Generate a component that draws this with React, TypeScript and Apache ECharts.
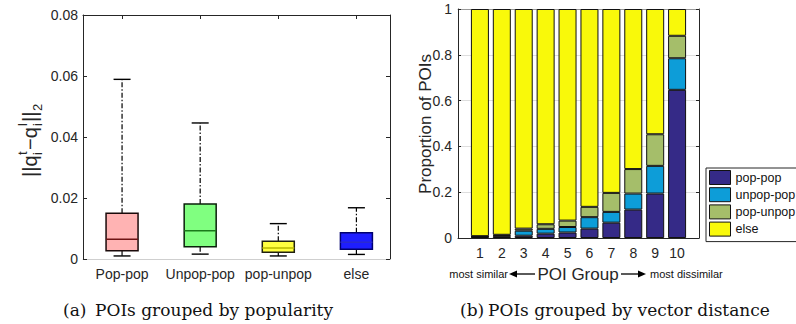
import React, { useEffect, useRef } from "react";
import * as echarts from "echarts";

// ---- Data: (a) box plot ----
const boxCategories = ["Pop-pop", "Unpop-pop", "pop-unpop", "else"];
const boxMin = [0.001, 0.0016, 0.001, 0.0015];
const boxQ1 = [0.0027, 0.004, 0.0022, 0.0032];
const boxMedian = [0.0065, 0.0093, 0.0036, 0.0055];
const boxQ3 = [0.015, 0.018, 0.0058, 0.0086];
const boxMax = [0.0589, 0.0446, 0.0116, 0.0168];
const boxYTicks = [0, 0.02, 0.04, 0.06, 0.08];

// ---- Data: (b) stacked bars ----
const groupLabels = ["1", "2", "3", "4", "5", "6", "7", "8", "9", "10"];
const popPop = [0.004, 0.007, 0.01, 0.019, 0.024, 0.041, 0.067, 0.124, 0.194, 0.647];
const unpopPop = [0.002, 0.003, 0.022, 0.021, 0.024, 0.05, 0.047, 0.07, 0.121, 0.138];
const popUnpop = [0.002, 0.004, 0.009, 0.02, 0.028, 0.045, 0.083, 0.107, 0.138, 0.098];
const elseVals = [0.992, 0.986, 0.959, 0.94, 0.924, 0.864, 0.803, 0.699, 0.547, 0.117];
const barSeriesNames = ["pop-pop", "unpop-pop", "pop-unpop", "else"];

const FONT = "'Liberation Sans', Arial, Helvetica, sans-serif";
const SERIF = "'DejaVu Serif', serif";
const TXT = "#262626";

const boxFill = ["#ffb3b3", "#80ff80", "#ffff40", "#1e1eff"];
const boxBorder = ["#1a0a0a", "#0a200a", "#202010", "#00006e"];
const boxMedianColor = ["#6e1414", "#1a7a1a", "#b8b800", "#2a2ad0"];
const barColors = ["#352a87", "#0d9dd8", "#a5be6a", "#f9f90a"];

export default function App() {
  const ref = useRef<HTMLDivElement>(null);

  useEffect(() => {
    if (!ref.current) return;
    const chart = echarts.init(ref.current, undefined, { renderer: "svg" });

    const boxData = boxCategories.map((_, i) => [
      i + 1,
      boxMin[i],
      boxQ1[i],
      boxMedian[i],
      boxQ3[i],
      boxMax[i],
    ]);

    const renderBox = (params: any, api: any) => {
      const i = params.dataIndex;
      const x = api.value(0);
      const pLo = api.coord([x, api.value(1)]);
      const pQ1 = api.coord([x, api.value(2)]);
      const pMed = api.coord([x, api.value(3)]);
      const pQ3 = api.coord([x, api.value(4)]);
      const pHi = api.coord([x, api.value(5)]);
      const cx = pHi[0];
      const bw = 32;
      const cw = 17;
      const dash = [5, 2, 1.5, 2];
      return {
        type: "group",
        children: [
          {
            type: "line",
            shape: { x1: cx, y1: pQ3[1], x2: cx, y2: pHi[1] },
            style: { stroke: "#000", lineWidth: 1.2, lineDash: dash },
          },
          {
            type: "line",
            shape: { x1: cx, y1: pQ1[1], x2: cx, y2: pLo[1] },
            style: { stroke: "#000", lineWidth: 1.2, lineDash: dash },
          },
          {
            type: "line",
            shape: { x1: cx - cw / 2, y1: pHi[1], x2: cx + cw / 2, y2: pHi[1] },
            style: { stroke: "#000", lineWidth: 1.4 },
          },
          {
            type: "line",
            shape: { x1: cx - cw / 2, y1: pLo[1], x2: cx + cw / 2, y2: pLo[1] },
            style: { stroke: "#000", lineWidth: 1.4 },
          },
          {
            type: "rect",
            shape: { x: cx - bw / 2, y: pQ3[1], width: bw, height: pQ1[1] - pQ3[1] },
            style: { fill: boxFill[i], stroke: boxBorder[i], lineWidth: 1.5 },
          },
          {
            type: "line",
            shape: { x1: cx - bw / 2, y1: pMed[1], x2: cx + bw / 2, y2: pMed[1] },
            style: { stroke: boxMedianColor[i], lineWidth: 1.5 },
          },
        ],
      };
    };

    const barVals = [popPop, unpopPop, popUnpop, elseVals];
    // padded with an empty slot on each side so groups sit at positions 1..10 of 0..11
    const barSeries = barSeriesNames.map((name, k) => ({
      name,
      type: "bar",
      xAxisIndex: 2,
      yAxisIndex: 2,
      stack: "all",
      barWidth: 18,
      data: [null, ...barVals[k], null],
      itemStyle: { color: barColors[k], borderColor: "#111", borderWidth: 1 },
    }));

    const tickLabel = { color: TXT, fontSize: 14, fontFamily: FONT };

    const scriptStyle = (text: string, x: number, y: number) => ({
      type: "text",
      x,
      y,
      style: {
        text,
        fontSize: 13,
        fontFamily: FONT,
        fill: TXT,
        align: "left",
        verticalAlign: "middle",
      },
    });
    const mainStyle = (text: string, x: number) => ({
      type: "text",
      x,
      y: 0,
      style: {
        text,
        fontSize: 20,
        fontFamily: FONT,
        fill: TXT,
        align: "left",
        verticalAlign: "middle",
      },
    });

    const option: any = {
      animation: false,
      backgroundColor: "#fff",
      textStyle: { fontFamily: FONT },
      grid: [
        { left: 83, top: 15, width: 307, height: 244 },
        { left: 458, top: 9, width: 241, height: 229 },
      ],
      xAxis: [
        {
          gridIndex: 0,
          type: "value",
          min: 0.5,
          max: 4.43,
          position: "bottom",
          axisLine: { show: true, onZero: false, lineStyle: { color: "#cfcfcf", width: 1 } },
          axisTick: { show: false },
          splitLine: { show: false },
          axisLabel: {
            ...tickLabel,
            margin: 8,
            customValues: [1, 2, 3, 4],
            formatter: (v: number) => boxCategories[Math.round(v) - 1] ?? "",
          },
        },
        {
          gridIndex: 0,
          type: "value",
          min: 0.5,
          max: 4.43,
          position: "top",
          axisLine: { show: true, onZero: false, lineStyle: { color: TXT, width: 1 } },
          axisTick: { show: true, inside: true, length: 4, customValues: [1, 2, 3, 4], lineStyle: { color: TXT } },
          splitLine: { show: false },
          axisLabel: { show: false },
        },
        {
          gridIndex: 1,
          type: "category",
          data: ["", ...groupLabels, ""],
          boundaryGap: false,
          position: "bottom",
          axisLine: { show: true, onZero: false, lineStyle: { color: TXT, width: 1 } },
          axisTick: { show: false },
          splitLine: { show: false },
          axisLabel: { ...tickLabel, margin: 8, interval: 0 },
        },
        {
          gridIndex: 1,
          type: "value",
          min: 0,
          max: 11,
          interval: 1,
          position: "top",
          axisLine: { show: true, onZero: false, lineStyle: { color: "#9a9a9a", width: 1 } },
          axisTick: {
            show: true,
            inside: true,
            length: 3,
            customValues: [1, 2, 3, 4, 5, 6, 7, 8, 9, 10],
            lineStyle: { color: "#9a9a9a" },
          },
          splitLine: { show: false },
          axisLabel: { show: false },
        },
      ],
      yAxis: [
        {
          gridIndex: 0,
          type: "value",
          min: boxYTicks[0],
          max: boxYTicks[boxYTicks.length - 1],
          interval: 0.02,
          position: "left",
          axisLine: { show: true, onZero: false, lineStyle: { color: TXT, width: 1 } },
          axisTick: { show: true, inside: true, length: 4, lineStyle: { color: TXT } },
          splitLine: { show: false },
          axisLabel: { ...tickLabel, margin: 5 },
        },
        {
          gridIndex: 0,
          type: "value",
          min: 0,
          max: 0.08,
          interval: 0.02,
          position: "right",
          axisLine: { show: true, onZero: false, lineStyle: { color: TXT, width: 1 } },
          axisTick: { show: true, inside: true, length: 4, lineStyle: { color: TXT } },
          splitLine: { show: false },
          axisLabel: { show: false },
        },
        {
          gridIndex: 1,
          type: "value",
          min: 0,
          max: 1,
          interval: 0.2,
          position: "left",
          axisLine: { show: true, onZero: false, lineStyle: { color: TXT, width: 1 } },
          axisTick: { show: true, inside: true, length: 3, lineStyle: { color: TXT } },
          splitLine: { show: true, lineStyle: { color: "#dedede", width: 1 } },
          axisLabel: { ...tickLabel, margin: 6 },
        },
        {
          gridIndex: 1,
          type: "value",
          min: 0,
          max: 1,
          interval: 0.2,
          position: "right",
          axisLine: { show: true, onZero: false, lineStyle: { color: TXT, width: 1 } },
          axisTick: { show: true, inside: true, length: 3, lineStyle: { color: TXT } },
          splitLine: { show: false },
          axisLabel: { show: false },
        },
      ],
      legend: {
        data: barSeriesNames,
        orient: "vertical",
        left: 706,
        top: 168,
        icon: "rect",
        itemWidth: 21,
        itemHeight: 14,
        itemGap: 2.2,
        padding: [2, 8, 5, 3],
        backgroundColor: "#fff",
        borderColor: TXT,
        borderWidth: 1,
        borderRadius: 0,
        itemStyle: { borderColor: "#111", borderWidth: 1 },
        textStyle: { color: "#111", fontSize: 12.5, fontFamily: FONT },
      },
      series: [
        {
          type: "custom",
          xAxisIndex: 0,
          yAxisIndex: 0,
          renderItem: renderBox,
          encode: { x: 0, y: [1, 2, 3, 4, 5] },
          data: boxData,
          z: 3,
        },
        ...barSeries,
      ],
      graphic: [
        // (a) y label ||q_i^t - q_i^l||_2
        {
          type: "group",
          x: 30,
          y: 177,
          rotation: Math.PI / 2,
          children: [
            mainStyle("||q", 0),
            scriptStyle("t", 22, -8),
            scriptStyle("i", 22, 7),
            mainStyle("\u2212q", 27),
            scriptStyle("l", 51, -8),
            scriptStyle("i", 51, 7),
            mainStyle("||", 55),
            scriptStyle("2", 66, 7),
          ],
        },
        // (b) y label
        {
          type: "text",
          x: 425,
          y: 124,
          rotation: Math.PI / 2,
          style: {
            text: "Proportion of POIs",
            fontSize: 17,
            fontFamily: FONT,
            fill: TXT,
            align: "center",
            verticalAlign: "middle",
          },
        },
        // (b) x label row
        {
          type: "text",
          x: 508,
          y: 274,
          style: { text: "most similar", fontSize: 11, fontFamily: FONT, fill: "#111", align: "right", verticalAlign: "middle" },
        },
        {
          type: "line",
          shape: { x1: 514, y1: 274, x2: 535, y2: 274 },
          style: { stroke: "#000", lineWidth: 1.3 },
        },
        {
          type: "polygon",
          shape: { points: [[509, 274], [517, 270.5], [517, 277.5]] },
          style: { fill: "#000" },
        },
        {
          type: "text",
          x: 578,
          y: 274,
          style: { text: "POI Group", fontSize: 17, fontFamily: FONT, fill: TXT, align: "center", verticalAlign: "middle" },
        },
        {
          type: "line",
          shape: { x1: 621, y1: 274, x2: 641, y2: 274 },
          style: { stroke: "#000", lineWidth: 1.3 },
        },
        {
          type: "polygon",
          shape: { points: [[646, 274], [638, 270.5], [638, 277.5]] },
          style: { fill: "#000" },
        },
        {
          type: "text",
          x: 650,
          y: 274,
          style: { text: "most dissimilar", fontSize: 11, fontFamily: FONT, fill: "#111", align: "left", verticalAlign: "middle" },
        },
        // captions
        {
          type: "text",
          x: 63,
          y: 310,
          style: { text: "(a)", fontSize: 17, fontFamily: SERIF, fill: "#111", align: "left", verticalAlign: "middle" },
        },
        {
          type: "text",
          x: 95,
          y: 310,
          style: { text: "POIs grouped by popularity", fontSize: 17, fontFamily: SERIF, fill: "#111", align: "left", verticalAlign: "middle" },
        },
        {
          type: "text",
          x: 460,
          y: 310,
          style: { text: "(b)", fontSize: 17, fontFamily: SERIF, fill: "#111", align: "left", verticalAlign: "middle" },
        },
        {
          type: "text",
          x: 488,
          y: 310,
          style: { text: "POIs grouped by vector distance", fontSize: 17, fontFamily: SERIF, fill: "#111", align: "left", verticalAlign: "middle" },
        },
      ],
    };

    chart.setOption(option);
    return () => chart.dispose();
  }, []);

  return (
    <div
      ref={ref}
      style={{ position: "absolute", left: 0, top: 0, width: 796, height: 324, overflow: "hidden" }}
    />
  );
}
